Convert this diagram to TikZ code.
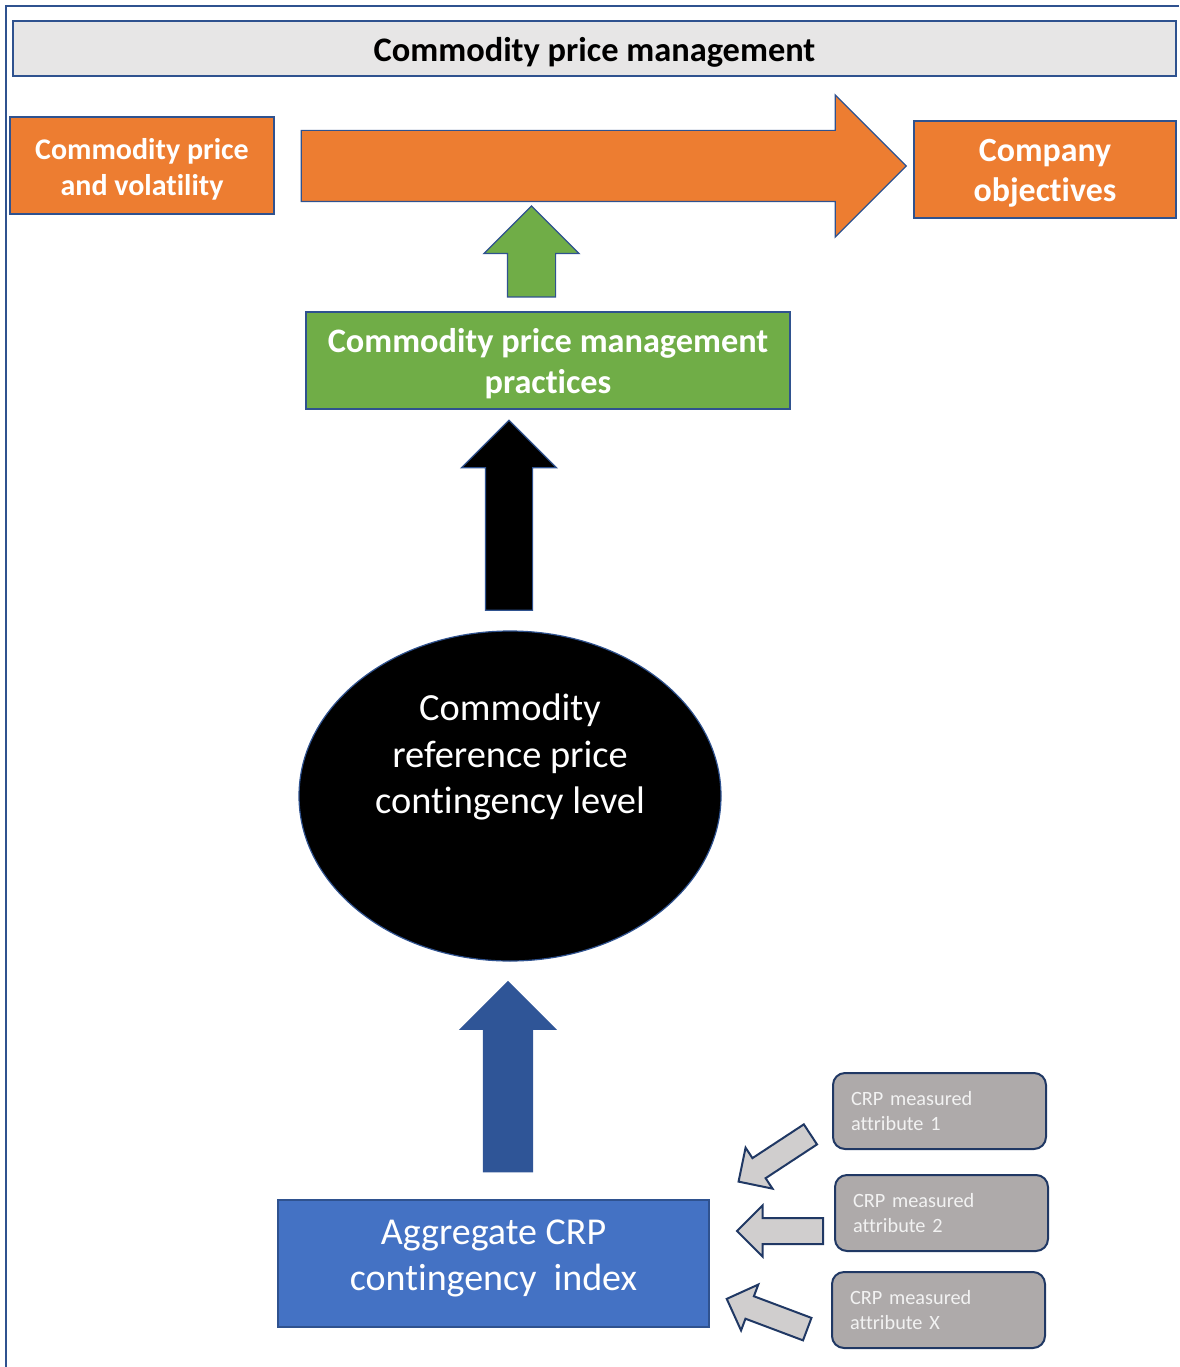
\documentclass[tikz,border=0pt]{standalone}
\usepackage{fontspec}
\setmainfont[Ligatures=NoCommon]{Carlito}
\usetikzlibrary{shapes.geometric,shapes.arrows}

\definecolor{pptedge}{RGB}{47,82,143}
\definecolor{pptnavy}{RGB}{32,56,100}
\definecolor{pptorange}{RGB}{237,125,49}
\definecolor{pptgreen}{RGB}{112,173,71}
\definecolor{pptblue}{RGB}{68,114,196}
\definecolor{pptdarkblue}{RGB}{47,85,151}
\definecolor{titlegrey}{RGB}{231,230,230}
\definecolor{attrgrey}{RGB}{174,170,170}
\definecolor{arrowgrey}{RGB}{208,206,206}
\definecolor{attrtext}{RGB}{242,242,242}

\tikzset{
  boxnode/.style={draw=pptedge, line width=1.5pt, inner sep=0pt, align=center},
  boxtext/.style={text=white, align=center, inner sep=0pt},
  attrbox/.style={draw=pptnavy, line width=2pt, fill=attrgrey, rounded corners=12pt,
    minimum width=213pt, minimum height=76pt, text width=177pt, align=left,
    inner sep=0pt, text=attrtext, font=\fontsize{20.3}{25}\selectfont},
  bigarrow/.style={single arrow, draw=pptedge, line width=1.2pt, single arrow head extend=#1,
    single arrow tip angle=90, inner sep=0pt},
  greyarrow/.style={single arrow, draw=pptnavy, line width=2pt, fill=arrowgrey,
    single arrow head extend=12.5pt, single arrow tip angle=90, inner sep=11.5pt, minimum height=86pt}
}

\begin{document}
\begin{tikzpicture}[x=1pt, y=-1pt]
    \useasboundingbox (0,0) rectangle (1179,1367);
    % Draw the frame
    \draw[pptedge, line width=1.5pt] (6,1367) -- (6,6) -- (1179,6);

    % Draw the boxes
    \node[boxnode, fill=titlegrey, minimum width=1163pt, minimum height=55pt, text height=32pt,
      font=\fontsize{34.4}{40}\selectfont\bfseries] (title) at (594.5,48.5) {Commodity price management};
    \node[boxnode, fill=pptorange, minimum width=264pt, minimum height=97pt,
      label={[boxtext, yshift=-4pt, font=\fontsize{30}{36}\selectfont\bfseries]center:Commodity price\\and volatility}]
      (pricevol) at (142,165.5) {};
    \node[boxnode, fill=pptorange, minimum width=262pt, minimum height=97pt,
      label={[boxtext, yshift=-4pt, font=\fontsize{33.9}{40}\selectfont\bfseries]center:Company\\objectives}]
      (objectives) at (1045,169.5) {};
    \node[boxnode, fill=pptgreen, minimum width=484pt, minimum height=97pt,
      label={[boxtext, yshift=-3pt, font=\fontsize{34.3}{41}\selectfont\bfseries]center:Commodity price management\\practices}]
      (practices) at (548,360.5) {};
    \node[ellipse, draw=pptedge, line width=1.2pt, fill=black, minimum width=422pt,
      minimum height=330pt, inner sep=0pt] (level) at (510,796) {};
    \node[align=center, text=white, font=\fontsize{38.4}{46.5}\selectfont] (leveltext) at (510,757)
      {Commodity\\reference price\\contingency level};
    \node[boxnode, fill=pptblue, minimum width=431pt, minimum height=127pt,
      label={[boxtext, yshift=5pt, font=\fontsize{38}{46}\selectfont]center:Aggregate CRP\\contingency\ \ index}]
      (aggregate) at (493.5,1263.5) {};

    % Draw the attributes
    \node[attrbox] (attr1) at (939.5,1111) {CRP measured\\attribute 1};
    \node[attrbox] (attr2) at (941.5,1213) {CRP measured\\attribute 2};
    \node[attrbox] (attrX) at (938.5,1310) {CRP measured\\attribute X};

    % Draw the block arrows
    \node[bigarrow=35.5pt, fill=pptorange, inner sep=35pt, minimum height=605pt] (flow) at (586,166) {};
    \node[bigarrow=23.5pt, fill=pptgreen, inner sep=23.5pt, minimum height=91pt, rotate=90] (uppractice) at (531.5,263.5) {};
    \node[bigarrow=24pt, fill=black, inner sep=23pt, minimum height=190pt, rotate=90] (uplevel) at (509,527) {};
    \node[bigarrow=23pt, fill=pptdarkblue, draw=pptdarkblue, inner sep=24pt, minimum height=190pt, rotate=90] (upindex) at (508,1089) {};
    \node[greyarrow, inner sep=11pt, rotate=213.3] (in1) at (779.5,1154.7) {};
    \node[greyarrow, inner sep=12pt, rotate=180] (in2) at (786.5,1231) {};
    \node[greyarrow, inner sep=11pt, rotate=159.4] (inX) at (772.6,1316.1) {};
\end{tikzpicture}
\end{document}
